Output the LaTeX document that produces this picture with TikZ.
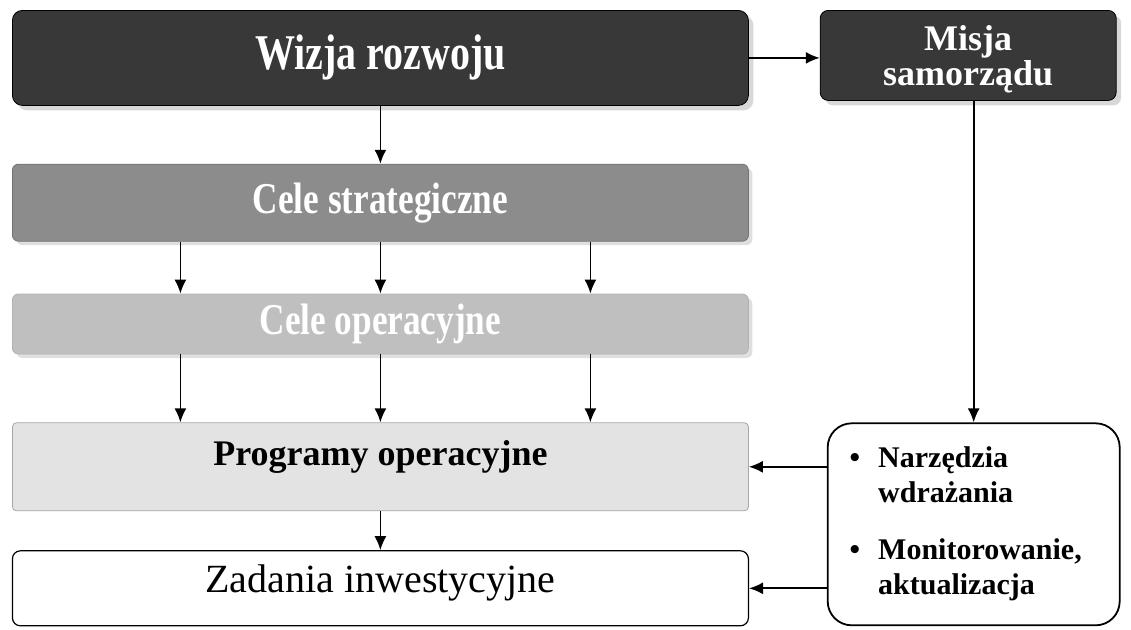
\documentclass[tikz,border=0pt]{standalone}
\usepackage{fontspec}
\setmainfont{Liberation Serif}
\newfontfamily\condfont[FakeStretch=0.8]{Liberation Serif}
\usetikzlibrary{shapes,arrows.meta,positioning,shadows}
\tikzstyle{lvl}=[rectangle,draw,rounded corners=3pt,align=center,minimum width=368pt,inner sep=0pt]
\tikzstyle{dark}=[lvl,draw=black,fill=black!78,text=white,rounded corners=5pt,drop shadow={shadow xshift=2.5pt,shadow yshift=-2.5pt,fill=black!30}]
\tikzstyle{grey}=[lvl,text=white,drop shadow={shadow xshift=2pt,shadow yshift=-2pt,fill=black!25},font=\condfont\bfseries\fontsize{22}{24}\selectfont]
\tikzstyle{narz}=[rectangle,draw,line width=0.9pt,rounded corners=12pt,align=left,text width=124pt,inner xsep=11pt,minimum height=101pt,font=\bfseries\fontsize{15}{17.5}\selectfont]
\tikzstyle{arr}=[-{Latex[length=7pt,width=6pt]},line width=0.9pt]

\begin{document}
\begin{tikzpicture}
\useasboundingbox (0,0) rectangle (565.5pt,-314.5pt);
\node[dark, anchor=north west, minimum height=47.5pt, font=\condfont\bfseries\fontsize{25}{27}\selectfont] (wizja) at (6pt,-5pt) {Wizja rozwoju};
\node[dark, right=35.5pt of wizja.north east, anchor=north west, minimum width=148pt, minimum height=45pt, rounded corners=4pt, text depth=0pt, font=\bfseries\fontsize{18}{17.5}\selectfont] (misja) {Misja\\samorządu};
\node[grey, draw=black!55, fill=black!45, below=29pt of wizja, minimum height=38.5pt] (strat) {Cele strategiczne};
\node[grey, draw=black!30, fill=black!25, below=26pt of strat, minimum height=30pt] (oper) {Cele operacyjne};
\node[lvl, draw=black!35, fill=black!11, below=34pt of oper, minimum height=44pt, rounded corners=2pt, text depth=14pt, font=\bfseries\fontsize{18}{20}\selectfont] (prog) {Programy operacyjne};
\node[lvl, line width=0.6pt, fill=white, below=19.5pt of prog, minimum height=37.5pt, rounded corners=4pt, text depth=10pt, font=\fontsize{20}{22}\selectfont] (zad) {Zadania inwestycyjne};
\node[narz, right=39pt of prog.north east, anchor=north west] (narz) {\begin{tabular}{@{}l@{\hspace{9pt}}l@{}}
\textbullet & Narzędzia\\
 & wdrażania\\[11pt]
\textbullet & Monitorowanie,\\
 & aktualizacja
\end{tabular}};
\draw[arr] (wizja.east) -- (wizja.east -| misja.west);
\draw[arr] (wizja) -- (strat);
\foreach \dx in {-100,0,105} {
  \draw[arr] ([xshift=\dx pt]strat.south) -- ([xshift=\dx pt]oper.north);
  \draw[arr] ([xshift=\dx pt]oper.south) -- ([xshift=\dx pt]prog.north);
}
\draw[arr] (prog) -- (zad);
\draw[arr] (misja.south -| narz.north) -- (narz.north);
\draw[arr] (narz.west |- prog.east) -- (prog.east);
\draw[arr] (narz.west |- zad.east) -- (zad.east);
\end{tikzpicture}
\end{document}
